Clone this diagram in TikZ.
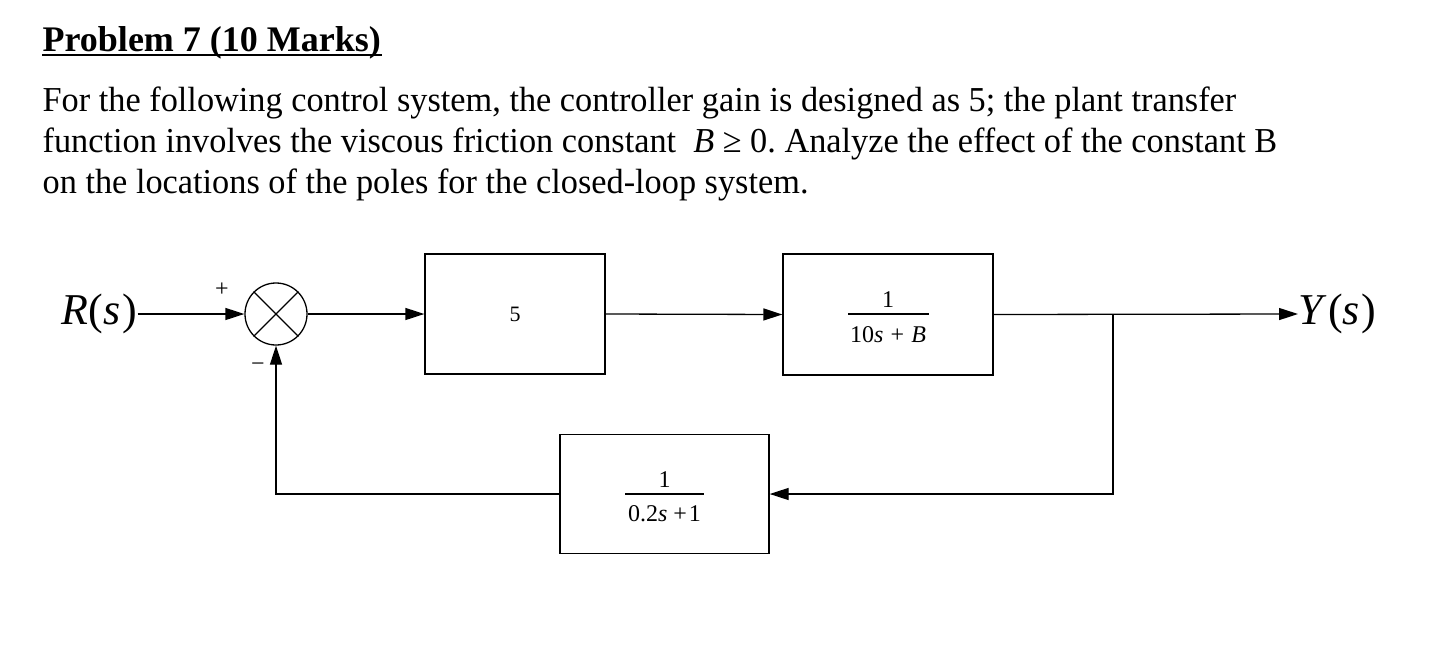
\documentclass[tikz,border=0pt]{standalone}
\usepackage{fontspec}
\setmainfont{Liberation Serif}
\newfontfamily\bodyfont[FakeStretch=0.98]{Liberation Serif}
\usetikzlibrary{arrows.meta}
\frenchspacing
\begin{document}
\begin{tikzpicture}[x=1pt,y=-1pt,line width=1.3pt,
  blk/.style={draw,inner sep=0pt},
  arr/.style={-{Triangle[length=19pt,width=12pt]}},
  body/.style={anchor=base west,inner sep=0pt,font=\bodyfont\fontsize{35}{41}\selectfont},
  frt/.style={anchor=base,inner sep=0pt,font=\fontsize{24}{28}\selectfont},
  sig/.style={anchor=west,inner sep=0pt,font=\fontsize{44}{48}\selectfont},
  sgn/.style={inner sep=0pt,font=\fontsize{24}{28}\selectfont}]
\useasboundingbox (0,0) rectangle (1455,645);
% text
\node[anchor=base west,inner sep=0pt,font=\fontsize{36}{40}\selectfont\bfseries] (title) at (42,51) {Problem 7 (10 Marks)};
\draw[line width=2.6pt] ([yshift=-4pt]title.base west) -- ([yshift=-4pt]title.base east);
\node[body] (l1) at (42,111) {For the following control system, the controller gain is designed as 5; the plant transfer};
\node[body] (l2) at (42,152) {function involves the viscous friction constant \ \textit{B} ≥ 0. Analyze the effect of the constant B};
\node[body] (l3) at (42,193) {on the locations of the poles for the closed-loop system.};
% diagram
\node[sig] (r) at (61,314) {\textit{R}(\textit{s}\kern2pt)};
\node[circle,draw,minimum size=62pt,inner sep=0pt] (sum) at (276,314) {};
\draw (sum.north west) -- (sum.south east) (sum.north east) -- (sum.south west);
\node[blk,minimum width=180pt,minimum height=120pt,font=\fontsize{22}{26}\selectfont] (k) at (515,314) {5};
\node[blk,minimum width=210pt,minimum height=121pt] (g) at (888,314.5) {};
\node[frt] (gn) at (888,307) {1};
\node[frt] (gd) at (888,342) {10\textit{s}\hspace{0.3em}+\hspace{0.3em}\textit{B}};
\draw[line width=1.4pt] (848,314) -- (929,314);
\node[blk,minimum width=209pt,minimum height=119pt] (h) at (664.5,494) {};
\node[frt] (hn) at (664.5,487) {1};
\node[frt] (hd) at (664.5,521) {0.2\textit{s}\hspace{0.25em}+\hspace{0.08em}1};
\draw[line width=1.4pt] (625,494) -- (704,494);
\node[sig] (y) at (1298,314) {\textit{Y}\kern1pt(\textit{s}\kern2pt)};
\coordinate (br) at (1113,314);
\node[sgn] (plus) at (222,290) {+};
\node[sgn] (minus) at (258,367) {−};
\draw[arr] (r.east) -- (sum.west);
\draw[arr] (sum.east) -- (k.west);
\draw[arr] (k.east) -- (g.west);
\draw[arr] (g.east) -- (y.west);
\draw[arr] (br) |- (h.east);
\draw[arr] (h.west) -| (sum.south);
\end{tikzpicture}
\end{document}
